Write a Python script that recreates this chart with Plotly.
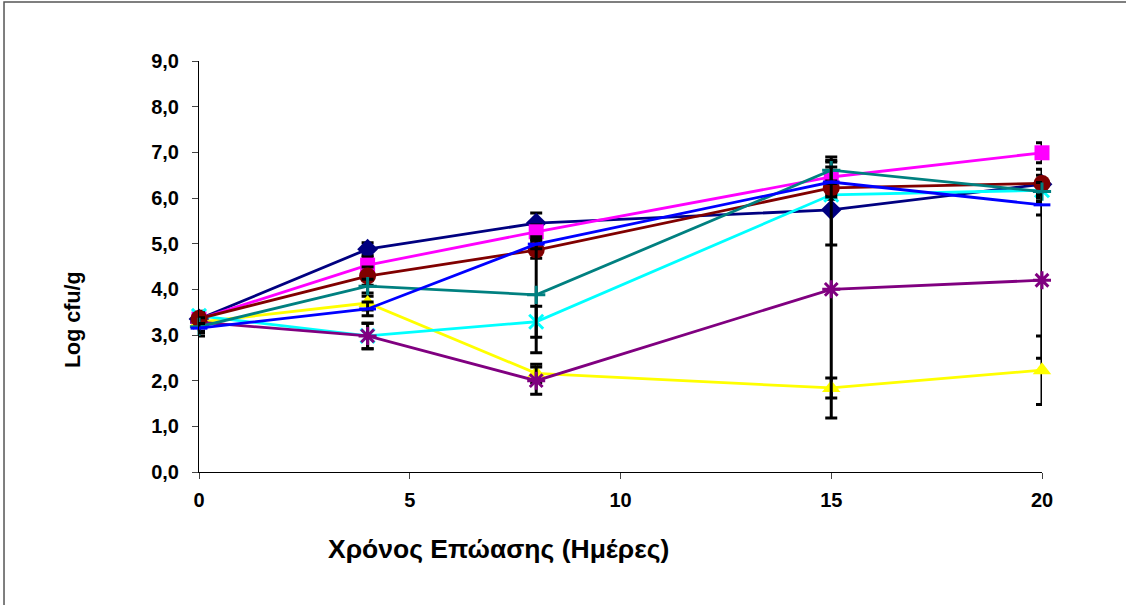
import plotly.graph_objects as go

days = [0, 4, 8, 15, 20]

navy_vals = [3.35, 4.88, 5.45, 5.74, 6.30]
magenta_vals = [3.35, 4.53, 5.26, 6.46, 6.99]
yellow_vals = [3.28, 3.70, 2.16, 1.84, 2.23]
cyan_vals = [3.42, 2.98, 3.29, 6.07, 6.17]
purple_vals = [3.28, 2.98, 2.00, 4.00, 4.20]
maroon_vals = [3.36, 4.29, 4.86, 6.22, 6.32]
teal_vals = [3.18, 4.07, 3.88, 6.61, 6.14]
blue_vals = [3.15, 3.57, 4.99, 6.35, 5.85]

navy_err = [0.15, 0.14, 0.22, 0.77, 0.20]
magenta_err = [0.10, 0.18, 0.15, 0.33, 0.22]
yellow_err = [0.10, 0.15, 0.20, 0.22, 0.75]
cyan_err = [0.10, 0.28, 0.34, 0.10, 0.10]
purple_err = [0.20, 0.28, 0.30, 2.82, 1.71]
maroon_err = [0.12, 0.20, 0.18, 0.15, 0.31]
teal_err = [0.20, 0.15, 1.27, 0.29, 0.20]
blue_err = [0.10, 0.15, 0.10, 0.33, 0.22]

y_ticks = [0, 1, 2, 3, 4, 5, 6, 7, 8, 9]
y_ticktext = ["0,0", "1,0", "2,0", "3,0", "4,0", "5,0", "6,0", "7,0", "8,0", "9,0"]
x_ticks = [0, 5, 10, 15, 20]
x_ticktext = ["0", "5", "10", "15", "20"]

x_title = "Χρόνος Επώασης (Ημέρες)"
y_title = "Log cfu/g"

series = [
    (navy_vals, navy_err, "#000080", "diamond", 16, False),
    (magenta_vals, magenta_err, "#FF00FF", "square", 15, False),
    (yellow_vals, yellow_err, "#FFFF00", "triangle-up", 16, False),
    (cyan_vals, cyan_err, "#00FFFF", "x-thin-open", 14, True),
    (purple_vals, purple_err, "#800080", "asterisk-open", 15, True),
    (maroon_vals, maroon_err, "#800000", "circle", 17, False),
    (teal_vals, teal_err, "#008080", "cross-thin-open", 13, True),
    (blue_vals, blue_err, "#0000FF", "line-ew-open", 12, True),
]

fig = go.Figure()
for vals, err, color, sym, size, is_open in series:
    marker = dict(symbol=sym, size=size, color=color)
    if is_open:
        marker["line"] = dict(color=color, width=3)
    else:
        marker["line"] = dict(width=0)
    fig.add_trace(go.Scatter(
        x=days, y=vals, mode="lines+markers",
        line=dict(color=color, width=2.8),
        marker=marker,
        error_y=dict(type="data", array=err, visible=True,
                     color="black", thickness=3, width=6),
        cliponaxis=False,
        showlegend=False,
    ))

font_family = "Arial, 'Liberation Sans', sans-serif"

fig.update_layout(
    width=1126, height=605,
    margin=dict(l=199, r=84, t=61, b=133),
    paper_bgcolor="white", plot_bgcolor="white",
    font=dict(family=font_family, color="black"),
    xaxis=dict(
        range=[0, 20], tickvals=x_ticks, ticktext=x_ticktext,
        showline=True, linecolor="black", linewidth=1,
        ticks="outside", ticklen=6, tickcolor="#444", tickwidth=1,
        showgrid=False, zeroline=False,
        tickfont=dict(size=20, weight="bold", family=font_family),
        ticklabelstandoff=4,
    ),
    yaxis=dict(
        range=[0, 9], tickvals=y_ticks, ticktext=y_ticktext,
        showline=True, linecolor="black", linewidth=1,
        ticks="outside", ticklen=6, tickcolor="#444", tickwidth=1,
        showgrid=False, zeroline=False,
        tickfont=dict(size=20, weight="bold", family=font_family),
        ticklabelstandoff=9,
    ),
    annotations=[
        dict(text=x_title, xref="paper", yref="paper", x=0.355, y=-0.187,
             xanchor="center", yanchor="middle", showarrow=False,
             font=dict(size=26.5, weight="bold", family=font_family)),
        dict(text=y_title, xref="paper", yref="paper", x=-0.1495, y=0.372,
             xanchor="center", yanchor="middle", showarrow=False, textangle=-90,
             font=dict(size=21.5, weight="bold", family=font_family)),
    ],
    shapes=[
        dict(type="rect", xref="paper", yref="paper",
             x0=-0.2313, x1=1.12, y0=-0.35, y1=1.1436,
             line=dict(color="#555555", width=1.5), layer="below"),
    ],
)

fig.write_html("out.html")
